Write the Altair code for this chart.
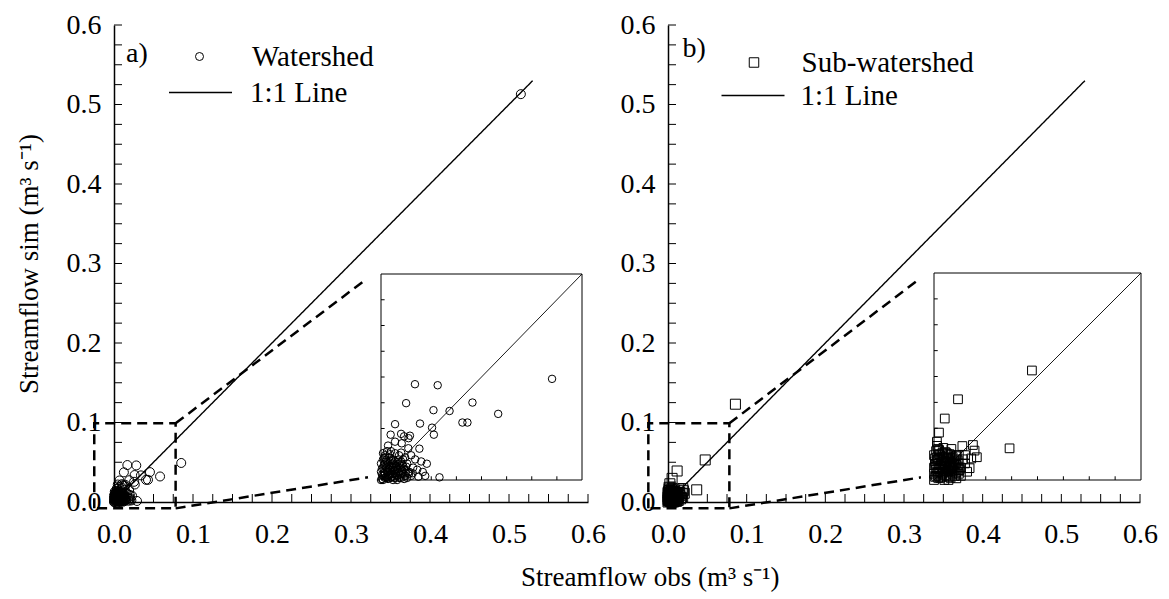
import altair as alt
import pandas as pd

FONT = "Liberation Serif"

# ---- observed vs simulated streamflow (m3/s) -------------------------------
# a) watershed outlet
obs_a = [0.515, 0.0851, 0.0169, 0.0282, 0.0125, 0.0455, 0.0261, 0.0341, 0.0583,
         0.0405, 0.0430, 0.0070, 0.0194, 0.0254, 0.0263, 0.0048, 0.0100, 0.0144,
         0.0137, 0.0115, 0.0103, 0.0191, 0.0136, 0.0035, 0.0070, 0.0228, 0.0208,
         0.0291, 0.0158, 0.0186, 0.0140, 0.0100, 0.0045, 0.0060, 0.0020,
         0.017, 0.018, 0.020, 0.015, 0.022,
         0.000, 0.001, 0.002, 0.003, 0.004, 0.005, 0.006, 0.007, 0.008, 0.009,
         0.010, 0.011, 0.012, 0.001, 0.002, 0.003, 0.004, 0.005, 0.006, 0.007,
         0.008, 0.009, 0.010, 0.011, 0.000, 0.000, 0.001, 0.002, 0.003, 0.004,
         0.005, 0.006, 0.007, 0.008, 0.009, 0.010, 0.012, 0.013, 0.014, 0.015,
         0.016, 0.013, 0.011, 0.009, 0.007, 0.005, 0.003, 0.001, 0.002, 0.004,
         0.006, 0.008, 0.010, 0.012, 0.003, 0.005, 0.007, 0.001, 0.0025, 0.0045]
sim_a = [0.513, 0.0491, 0.0465, 0.0460, 0.0373, 0.0376, 0.0339, 0.0335, 0.0321,
         0.0279, 0.0279, 0.0271, 0.0274, 0.0254, 0.0220, 0.0220, 0.0224, 0.0215,
         0.0203, 0.0212, 0.0178, 0.0152, 0.0154, 0.0167, 0.0186, 0.0079, 0.0039,
         0.0013, 0.0033, 0.0016, 0.0030, 0.0133, 0.0125, 0.0100, 0.0110,
         0.010, 0.005, 0.009, 0.012, 0.002,
         0.000, 0.002, 0.001, 0.004, 0.002, 0.006, 0.003, 0.005, 0.002, 0.004,
         0.001, 0.003, 0.002, 0.006, 0.008, 0.009, 0.007, 0.010, 0.008, 0.009,
         0.007, 0.008, 0.006, 0.007, 0.004, 0.008, 0.010, 0.012, 0.006, 0.011,
         0.001, 0.000, 0.001, 0.000, 0.001, 0.003, 0.005, 0.001, 0.004, 0.002,
         0.006, 0.008, 0.010, 0.012, 0.013, 0.014, 0.014, 0.013, 0.003, 0.005,
         0.006, 0.005, 0.009, 0.011, 0.001, 0.003, 0.003, 0.000, 0.0065, 0.0085]
# low-flow days packed near the origin
obs_a_low = [0.0005, 0.0015, 0.0025, 0.0035, 0.0045, 0.0055, 0.0065, 0.0075, 0.0085,
             0.0095, 0.0005, 0.0015, 0.0035, 0.0055, 0.0075, 0.0095, 0.0105, 0.0115,
             0.0025, 0.0045, 0.0065, 0.0085, 0.0105, 0.0005, 0.0035, 0.0015, 0.0055,
             0.0125, 0.0135, 0.0115]
sim_a_low = [0.0005, 0.0035, 0.0015, 0.0025, 0.0045, 0.0015, 0.0045, 0.0025, 0.0035,
             0.0055, 0.0055, 0.0075, 0.0055, 0.0065, 0.0065, 0.0025, 0.0045, 0.0055,
             0.0095, 0.0025, 0.0075, 0.0095, 0.0075, 0.0025, 0.0005, 0.0105, 0.0095,
             0.0065, 0.0035, 0.0005]

# b) sub-watershed
obs_b = [0.0857, 0.0473, 0.0116, 0.0052, 0.0024, 0.0014, 0.0365, 0.0137, 0.0188,
         0.0196, 0.0207, 0.0180, 0.0172, 0.0124, 0.0108, 0.0084,
         0.000, 0.001, 0.002, 0.003, 0.004, 0.005, 0.006, 0.007, 0.008, 0.009,
         0.010, 0.000, 0.001, 0.002, 0.003, 0.004, 0.005, 0.006, 0.007, 0.008,
         0.009, 0.010, 0.011, 0.012, 0.000, 0.001, 0.002, 0.003, 0.004, 0.005,
         0.006, 0.007, 0.008, 0.009, 0.010, 0.011, 0.012, 0.013, 0.014, 0.015,
         0.000, 0.001, 0.002, 0.003, 0.004, 0.006, 0.007, 0.009, 0.0005, 0.0015,
         0.0035, 0.0055, 0.0065, 0.0075, 0.0085, 0.0105, 0.012, 0.013, 0.016, 0.015]
sim_b = [0.123, 0.0529, 0.0390, 0.0297, 0.0229, 0.0185, 0.0153, 0.0164, 0.0169,
         0.0142, 0.0110, 0.0104, 0.0057, 0.0048, 0.0008, 0.0150,
         0.000, 0.002, 0.004, 0.001, 0.003, 0.005, 0.002, 0.004, 0.001, 0.003,
         0.002, 0.006, 0.008, 0.010, 0.012, 0.009, 0.011, 0.008, 0.010, 0.007,
         0.009, 0.006, 0.004, 0.008, 0.012, 0.014, 0.015, 0.007, 0.013, 0.000,
         0.013, 0.000, 0.012, 0.011, 0.010, 0.012, 0.003, 0.006, 0.010, 0.008,
         0.003, 0.005, 0.001, 0.004, 0.006, 0.005, 0.007, 0.006, 0.009, 0.011,
         0.0095, 0.0075, 0.0105, 0.0125, 0.0045, 0.0085, 0.012, 0.002, 0.004, 0.012]
obs_b_low = [0.0005, 0.0015, 0.0025, 0.0035, 0.0045, 0.0055, 0.0065, 0.0075, 0.0085,
             0.0095, 0.0005, 0.0015, 0.0025, 0.0035, 0.0045, 0.0055, 0.0065, 0.0075,
             0.0085, 0.0095, 0.0105, 0.0115, 0.0005, 0.0015, 0.0025, 0.0045, 0.0065,
             0.0105, 0.0115, 0.0125]
sim_b_low = [0.0015, 0.0035, 0.0055, 0.0015, 0.0035, 0.0025, 0.0045, 0.0015, 0.0065,
             0.0045, 0.0075, 0.0095, 0.0125, 0.0075, 0.0105, 0.0135, 0.0085, 0.0055,
             0.0105, 0.0075, 0.0035, 0.0065, 0.0105, 0.0165, 0.0145, 0.0155, 0.0125,
             0.0115, 0.0095, 0.0055]

series_a = "Watershed"
series_b = "Sub-watershed"
line_label = "1:1 Line"

# ---- axes ------------------------------------------------------------------
axis_values = [0.0, 0.1, 0.2, 0.3, 0.4, 0.5, 0.6]
minor_ticks = [0.025, 0.05, 0.075, 0.1, 0.125, 0.15, 0.175, 0.2, 0.225, 0.25,
               0.275, 0.3, 0.325, 0.35, 0.375, 0.4, 0.425, 0.45, 0.475, 0.5,
               0.525, 0.55, 0.575, 0.6]
inset_ticks = [0.0125, 0.025, 0.0375, 0.05, 0.0625, 0.075, 0.0875]
one_to_one = [0.0, 0.53]
inset_limits = [0.0, 0.1]

# dashed zoom outline in main-panel units: box, upper and lower leader lines
zoom_seg = [0, 0, 0, 0, 0, 1, 1, 2, 2]
zoom_x = [-0.025, -0.025, 0.078, 0.078, -0.025, 0.078, 0.315, 0.078, 0.3215]
zoom_y = [-0.008, 0.099, 0.099, -0.008, -0.008, 0.099, 0.277, -0.008, 0.031]

H = 477
TXT = 28
LEG = 29


def panel(obs, sim, name, shape, tag, tag_pos, width, inset_x, inset_y, sizes,
          legend_pos, y_title):
    main_size, inset_size, legend_size = sizes
    sym_x, sym_y, sym_off, line_x, line_y, line_off = legend_pos
    pts = pd.DataFrame({"obs": obs, "sim": sim, "series": name})
    xs = alt.Scale(domain=[0, 0.6], nice=False, zero=False)
    ys = alt.Scale(domain=[0, 0.6], nice=False, zero=False)

    y_axis_kw = dict(values=axis_values, format=".1f", ticks=False, labelPadding=13,
                     grid=False, labelFlush=False, labelOverlap=False)
    if y_title:
        y_axis_kw.update(title=y_title, titleFontSize=27, titlePadding=23)
    else:
        y_axis_kw.update(title=None)

    scatter = alt.Chart(pts).mark_point(
        filled=False, color="black", strokeWidth=1, size=main_size, opacity=1
    ).encode(
        x=alt.X("obs:Q", scale=xs,
                axis=alt.Axis(values=axis_values, format=".1f", ticks=False,
                              labelPadding=18, grid=False, title=None,
                              labelFlush=False, labelOverlap=False)),
        y=alt.Y("sim:Q", scale=ys, axis=alt.Axis(**y_axis_kw)),
        shape=alt.Shape(
            "series:N",
            scale=alt.Scale(domain=[name], range=[shape]),
            legend=alt.Legend(title=None, orient="none", legendX=sym_x, legendY=sym_y,
                              symbolSize=legend_size, symbolStrokeColor="black",
                              symbolFillColor="transparent", symbolStrokeWidth=1,
                              labelFont=FONT, labelFontSize=LEG, labelColor="black",
                              labelOffset=sym_off, labelLimit=400),
        ),
    )

    line_df = pd.DataFrame({"obs": one_to_one, "sim": one_to_one, "series": line_label})
    line = alt.Chart(line_df).mark_line(color="black", strokeWidth=1.4).encode(
        x=alt.X("obs:Q", scale=xs, axis=None),
        y=alt.Y("sim:Q", scale=ys, axis=None),
        strokeDash=alt.StrokeDash(
            "series:N",
            scale=alt.Scale(domain=[line_label], range=[[1, 0]]),
            legend=alt.Legend(title=None, orient="none", legendX=line_x, legendY=line_y,
                              symbolType="stroke", symbolSize=3969,
                              symbolStrokeWidth=1.5, symbolStrokeColor="black",
                              labelFont=FONT, labelFontSize=LEG, labelColor="black",
                              labelOffset=line_off, labelLimit=400),
        ),
    )

    ticks_df = pd.DataFrame({"t": minor_ticks})
    x_ticks = alt.Chart(ticks_df).mark_rule(color="black", strokeWidth=1).encode(
        x=alt.X("t:Q", scale=xs, axis=None), y=alt.value(H), y2=alt.value(H - 8))
    y_ticks = alt.Chart(ticks_df).mark_rule(color="black", strokeWidth=1).encode(
        y=alt.Y("t:Q", scale=ys, axis=None), x=alt.value(0), x2=alt.value(8))

    zoom_df = pd.DataFrame({"seg": zoom_seg, "step": list(range(len(zoom_x))),
                            "x": zoom_x, "y": zoom_y})
    zoom = alt.Chart(zoom_df).mark_line(
        color="black", strokeWidth=2.5, strokeDash=[10, 6]
    ).encode(
        x=alt.X("x:Q", scale=xs, axis=None),
        y=alt.Y("y:Q", scale=ys, axis=None),
        detail="seg:N",
        order="step:Q",
    )

    tag_mark = alt.Chart(pd.DataFrame({"tag": [tag]})).mark_text(
        font=FONT, fontSize=TXT, align="left", baseline="middle", color="black"
    ).encode(x=alt.value(tag_pos[0]), y=alt.value(tag_pos[1]), text="tag:N")

    # ---- inset: close-up of the 0-0.1 range
    ix = alt.Scale(domain=inset_limits, range=inset_x, nice=False, zero=False)
    iy = alt.Scale(domain=inset_limits, range=inset_y, nice=False, zero=False)
    box_df = pd.DataFrame({"lo": [inset_limits[0]], "hi": [inset_limits[1]]})
    box = alt.Chart(box_df).mark_rect(
        fillOpacity=0, stroke="black", strokeWidth=1
    ).encode(
        x=alt.X("lo:Q", scale=ix, axis=None), x2="hi:Q",
        y=alt.Y("lo:Q", scale=iy, axis=None), y2="hi:Q",
    )
    diag_df = pd.DataFrame({"obs": inset_limits, "sim": inset_limits})
    diag = alt.Chart(diag_df).mark_line(color="black", strokeWidth=0.9).encode(
        x=alt.X("obs:Q", scale=ix, axis=None), y=alt.Y("sim:Q", scale=iy, axis=None))
    inset_pts = alt.Chart(pts).transform_filter(
        "datum.obs <= 0.1 && datum.sim <= 0.1"
    ).mark_point(
        shape=shape, filled=False, color="black", strokeWidth=1, size=inset_size, opacity=1
    ).encode(
        x=alt.X("obs:Q", scale=ix, axis=None), y=alt.Y("sim:Q", scale=iy, axis=None))
    iticks_df = pd.DataFrame({"t": inset_ticks})
    ix_ticks = alt.Chart(iticks_df).mark_rule(color="black", strokeWidth=1).encode(
        x=alt.X("t:Q", scale=ix, axis=None),
        y=alt.Y(datum=0.0, scale=iy, axis=None), y2=alt.Y2(datum=0.0018))
    iy_ticks = alt.Chart(iticks_df).mark_rule(color="black", strokeWidth=1).encode(
        y=alt.Y("t:Q", scale=iy, axis=None),
        x=alt.X(datum=0.0, scale=ix, axis=None), x2=alt.X2(datum=0.0018))

    return alt.layer(
        scatter, zoom, line, x_ticks, y_ticks, tag_mark,
        box, diag, inset_pts, ix_ticks, iy_ticks,
    ).resolve_scale(
        x="independent", y="independent"
    ).properties(width=width, height=H)


panel_a = panel(obs_a + obs_a_low, sim_a + sim_a_low, series_a, "circle", "a)",
                (12, 29), 474, [267, 468], [455, 249], (81, 56, 64),
                (71, 17, 38, 54, 35, 17), "Streamflow sim (m³ s⁻¹)")
panel_b = panel(obs_b + obs_b_low, sim_b + sim_b_low, series_b, "square", "b)",
                (14.5, 24), 472, [266, 473], [455, 248], (100, 76, 90),
                (71.5, 23, 33, 52.5, 38, 15), None)

chart = alt.hconcat(
    panel_a, panel_b, spacing=80, bounds="flush",
    title=alt.TitleParams("Streamflow obs (m³ s⁻¹)", orient="bottom", anchor="middle",
                          font=FONT, fontSize=27, fontWeight="normal", color="black",
                          offset=17, dx=64),
).resolve_scale(
    shape="independent", strokeDash="independent"
).properties(
    padding={"left": 15, "top": 11, "right": 5, "bottom": 5}
).configure_view(
    stroke=None
).configure_axis(
    labelFont=FONT, labelFontSize=TXT, labelColor="black",
    titleFont=FONT, titleColor="black", titleFontWeight="normal",
    domainColor="black", domainWidth=1.5,
).configure_text(font=FONT)

chart.save("out.html", embed_options={"renderer": "svg", "actions": False})
